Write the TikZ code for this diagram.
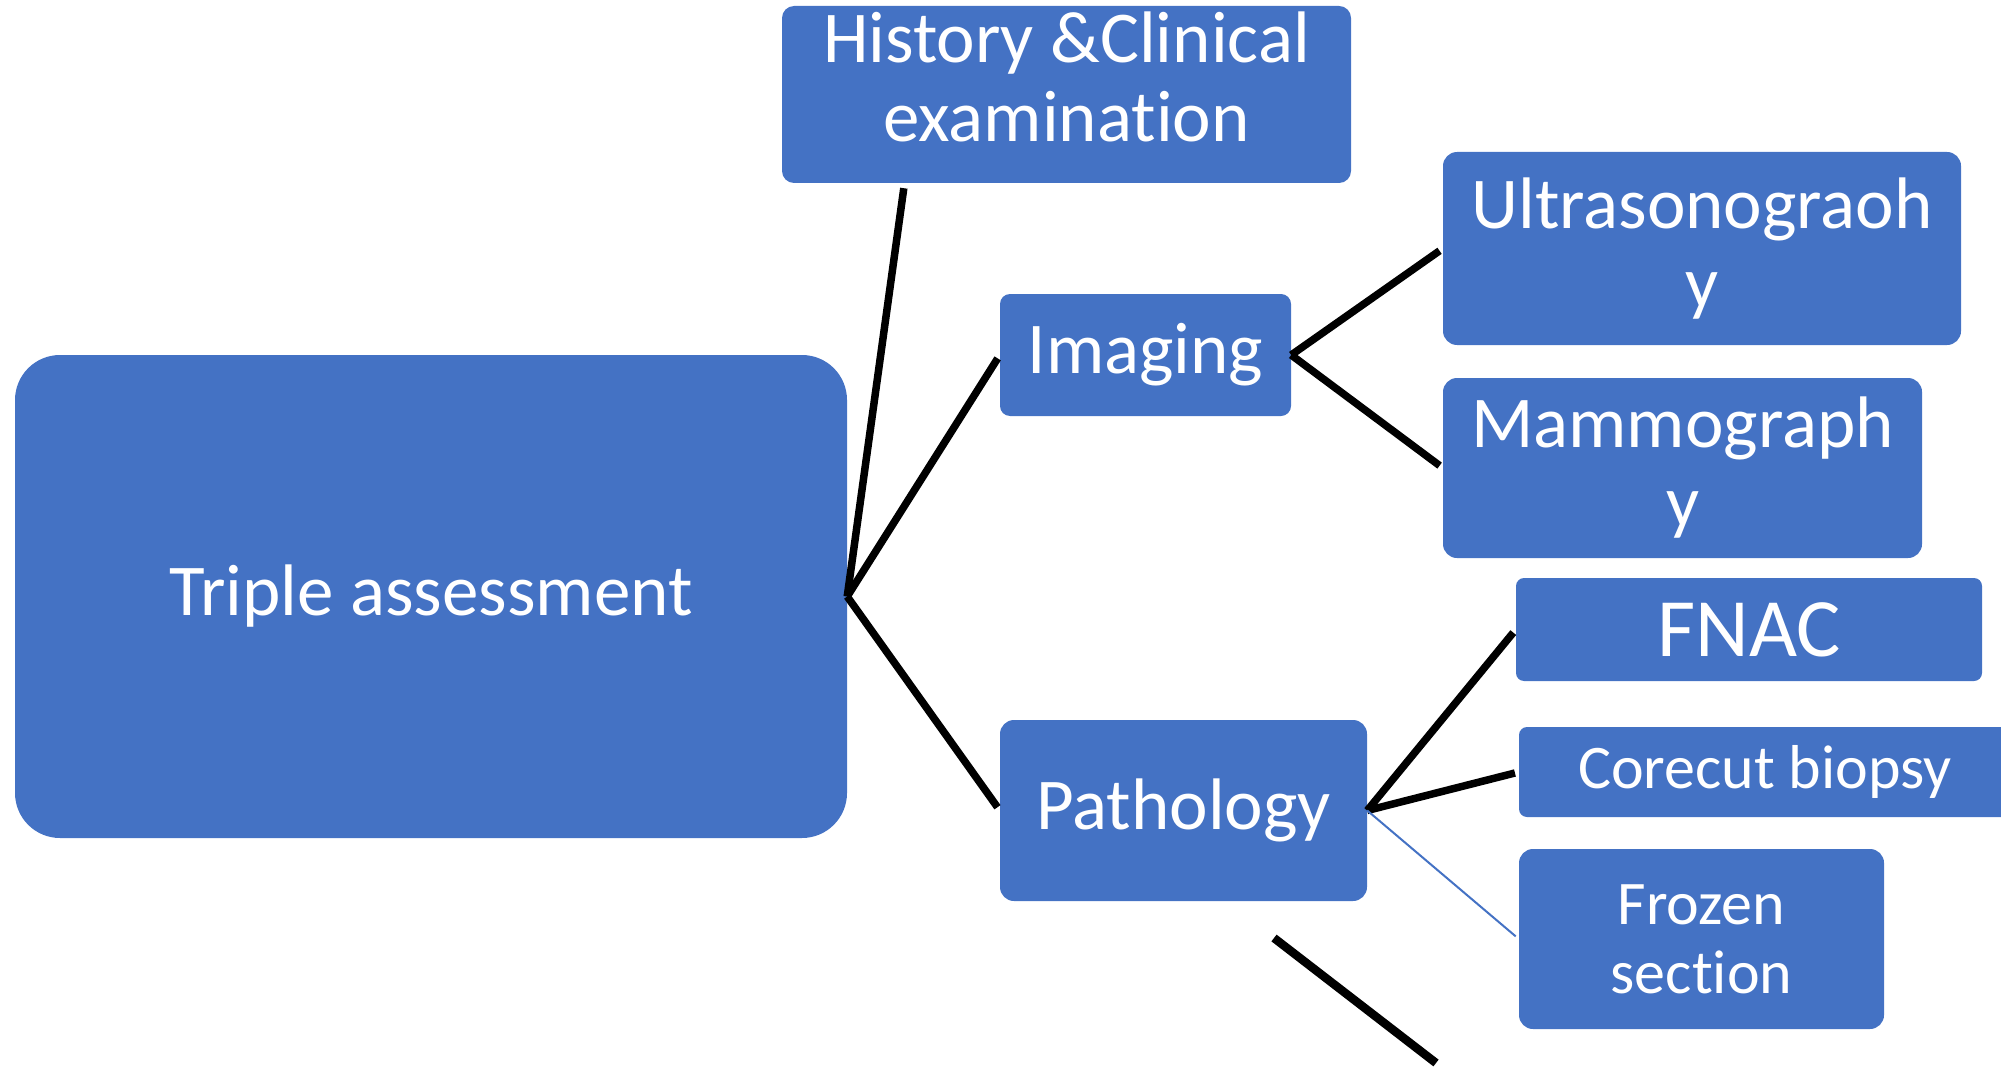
\documentclass[tikz,border=0pt]{standalone}
\usepackage{fontspec}
\setmainfont{Carlito}[Ligatures=NoCommon]
\usetikzlibrary{calc}
\definecolor{boxblue}{HTML}{4472C4}

\begin{document}
\begin{tikzpicture}[x=1pt,y=-1pt,
 box/.style={fill=boxblue,text=white,align=center,inner sep=0pt,rounded corners=12pt,font=\fontsize{73}{79}\selectfont},
 big/.style={font=\fontsize{83}{89}\selectfont},
 small/.style={font=\fontsize{62}{69}\selectfont},
 link/.style={line width=7.5pt,black,shorten >=4pt},
 thinlink/.style={line width=2pt,boxblue,shorten >=4pt}]
\useasboundingbox (0,0) rectangle (2001,1067);
\clip (0,0) rectangle (2001,1067);
% boxes
\node[box,rounded corners=45pt,minimum width=832pt,minimum height=483pt] (tri) at (431,596.5) {Triple assessment};
\node[box,text depth=36pt,minimum width=569pt,minimum height=177pt] (hist) at (1066.5,94.5) {History \&Clinical\\examination};
\node[box,rounded corners=10pt,minimum width=291pt,minimum height=122pt] (img) at (1145.5,355) {Imaging};
\node[box,rounded corners=14pt,minimum width=367pt,minimum height=181pt] (path) at (1183.5,810.5) {Pathology};
\node[box,rounded corners=14pt,minimum width=518pt,minimum height=193pt] (ultra) at (1702,248.5) {Ultrasonograoh\\y};
\node[box,rounded corners=14pt,minimum width=479pt,minimum height=180pt] (mammo) at (1682.5,468) {Mammograph\\y};
\node[box,big,rounded corners=8pt,minimum width=466pt,minimum height=103pt] (fnac) at (1749,629.5) {FNAC};
\node[box,small,rounded corners=8pt,minimum width=492pt,minimum height=90pt] (core) at (1765,772) {Corecut biopsy};
\node[box,small,rounded corners=14pt,minimum width=365pt,minimum height=180pt] (froz) at (1701.5,939) {Frozen\\section};
% connectors
\coordinate (histfoot) at ($(hist.south west)+(122,5)$);
\draw[link,shorten >=0pt] (histfoot) -- (tri.east);
\draw[link] (tri.east) -- (img.west);
\draw[link] (tri.east) -- (path.west);
\draw[link] (img.east) -- (ultra.west);
\draw[link] (img.east) -- (mammo.west);
\draw[link] (path.east) -- (fnac.west);
\draw[link] (path.east) -- (core.west);
\draw[thinlink] (path.east) -- (froz.west);
% loose stroke
\coordinate (strayA) at (1274,938);
\coordinate (strayB) at (1436,1063);
\draw[line width=8.5pt] (strayA) -- (strayB);
\end{tikzpicture}
\end{document}
